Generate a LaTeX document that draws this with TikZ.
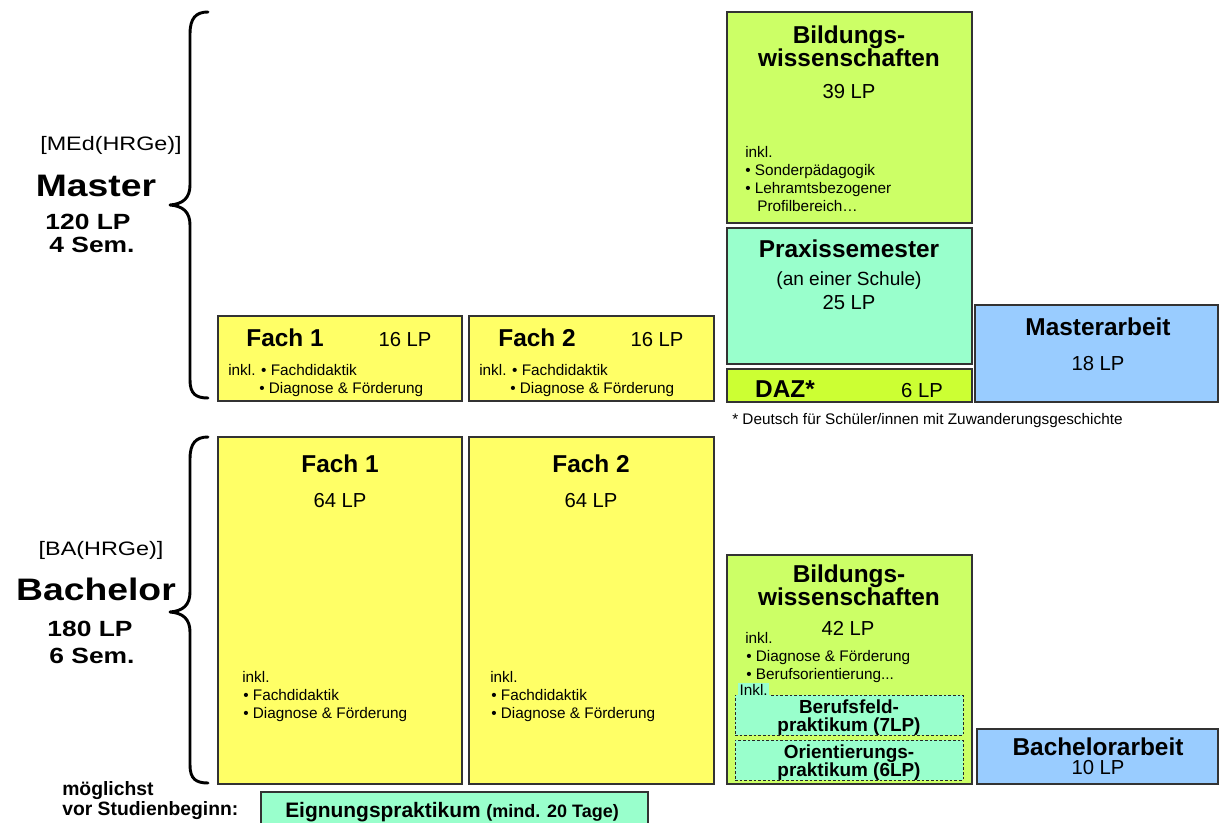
\documentclass[tikz,border=0pt]{standalone}
\usepackage{fontspec}
\setmainfont{Liberation Sans}
\newfontfamily\widefam[FakeStretch=1.2]{Liberation Sans}
\newcommand\fsz[1]{\fontsize{#1pt}{#1pt}\selectfont}
\definecolor{cYel}{HTML}{FFFF66}
\definecolor{cLime}{HTML}{CCFF66}
\definecolor{cDaz}{HTML}{CCFF33}
\definecolor{cMint}{HTML}{99FFCC}
\definecolor{cBlue}{HTML}{99CCFF}
\tikzset{
  box/.style={draw=black!80, line width=0.9pt, inner sep=0pt, outer sep=0pt, rectangle},
  dbox/.style={draw=black!85, line width=0.7pt, dash pattern=on 2pt off 1.5pt, fill=cMint},
  hd/.style={font=\fsz{18.3}\bfseries, inner sep=0pt, anchor=base},
  lp/.style={font=\fsz{15.2}, inner sep=0pt, anchor=base},
  sm/.style={font=\fsz{11.5}, inner sep=0pt, anchor=base west},
  pk/.style={font=\fsz{14.2}\bfseries, inner sep=0pt, anchor=base},
  lbl/.style={inner sep=0pt, anchor=base},
  brace/.style={line width=2.2pt, line cap=round, line join=round}
}
\newcommand\bx[6]{\node[box,#6,anchor=north west,minimum width={(#4-#2)*0.75pt},minimum height={(#5-#3)*0.75pt}] (#1) at (#2,#3) {};}
\begin{document}
\begin{tikzpicture}[x=0.75pt,y=-0.75pt]
\useasboundingbox[fill=white] (0,0) rectangle (1219,823);

% braces
\draw[brace] (208,12) .. controls (196,12) and (190,18) .. (190,34) -- (190,185) .. controls (190,198) and (183,204) .. (170,205) .. controls (183,206) and (190,212) .. (190,225) -- (190,380) .. controls (190,394) and (196,398) .. (208,398);
\draw[brace] (208,437) .. controls (196,437) and (190,443) .. (190,459) -- (190,592) .. controls (190,605) and (183,611) .. (170,612) .. controls (183,613) and (190,619) .. (190,632) -- (190,765) .. controls (190,779) and (196,783) .. (208,783);

% left labels
\node[lbl, font={\widefam\fsz{14.6}}] (medl) at (111,151) {[MEd(HRGe)]};
\node[lbl, font={\widefam\fsz{23.3}\bfseries}] (mast) at (96,197) {Master};
\node[lbl, font={\widefam\fsz{16.5}\bfseries}] (mlp) at (88,230) {120 LP};
\node[lbl, font={\widefam\fsz{16.5}\bfseries}] (msem) at (92,253) {4 Sem.};
\node[lbl, font={\widefam\fsz{14.6}}] (bal) at (101,555) {[BA(HRGe)]};
\node[lbl, font={\widefam\fsz{23.3}\bfseries}] (bach) at (96,600) {Bachelor};
\node[lbl, font={\widefam\fsz{16.5}\bfseries}] (blp) at (90,636) {180 LP};
\node[lbl, font={\widefam\fsz{16.5}\bfseries}] (bsem) at (92,663) {6 Sem.};

% boxes master
\bx{mf1}{218}{316}{462}{401}{fill=cYel}
\bx{mf2}{469}{316}{714}{401}{fill=cYel}
\bx{mbw}{727}{12}{972}{223}{fill=cLime}
\bx{prax}{727}{228}{972}{364}{fill=cMint}
\bx{daz}{727}{369}{972}{402}{fill=cDaz}
\bx{marb}{975}{305}{1218}{402}{fill=cBlue}
% boxes bachelor
\bx{bf1}{218}{437}{462}{784}{fill=cYel}
\bx{bf2}{469}{437}{714}{784}{fill=cYel}
\bx{bbw}{727}{555}{972}{784}{fill=cLime}
\node[dbox, inner sep=0pt, outer sep=0pt, anchor=north west, minimum width={228*0.75pt}, minimum height={40*0.75pt}] (bfp) at (735,695) {};
\node[dbox, inner sep=0pt, outer sep=0pt, anchor=north west, minimum width={228*0.75pt}, minimum height={40*0.75pt}] (orp) at (735,740) {};
\bx{barb}{977}{729}{1218}{784}{fill=cBlue}
\bx{eign}{261}{792}{648}{840}{fill=cMint}

% master Fach texts
\node[hd] (mf1t) at (285,346) {Fach 1};
\node[lp] (mf1lp) at (405,346) {16 LP};
\node[sm] (mf1a) at (228,375) {inkl. • Fachdidaktik};
\node[sm] (mf1b) at (259,393) {• Diagnose \& Förderung};
\node[hd] (mf2t) at (537,346) {Fach 2};
\node[lp] (mf2lp) at (657,346) {16 LP};
\node[sm] (mf2a) at (479,375) {inkl. • Fachdidaktik};
\node[sm] (mf2b) at (510,393) {• Diagnose \& Förderung};

% master BW
\node[hd] (mbw1) at (849,44) {Bildungs-};
\node[hd] (mbw2) at (849,67) {wissenschaften};
\node[lp] (mbw3) at (849,99) {39 LP};
\node[sm] (mbw4) at (745,158) {inkl.};
\node[sm] (mbw5) at (745,176) {• Sonderpädagogik};
\node[sm] (mbw6) at (745,194) {• Lehramtsbezogener};
\node[sm] (mbw7) at (757,212) {Profilbereich…};

% Praxissemester
\node[hd] (prax1) at (849,258) {Praxissemester};
\node[lbl, font=\fsz{14.3}] (prax2) at (849,286) {(an einer Schule)};
\node[lp] (prax3) at (849,310) {25 LP};

% DAZ
\node[hd] (daz1) at (785,397) {DAZ*};
\node[lp] (daz2) at (922,397) {6 LP};

% Masterarbeit
\node[hd] (marb1) at (1098,335) {Masterarbeit};
\node[lp] (marb2) at (1098,370) {18 LP};

% footnote
\node[sm, font=\fsz{11.5}] (foot) at (732,424) {* Deutsch für Schüler/innen mit Zuwanderungsgeschichte};

% bachelor Fach
\node[hd] (bf1t) at (340,472) {Fach 1};
\node[lp] (bf1lp) at (340,507) {64 LP};
\node[sm] (bf1a) at (242,682) {inkl.};
\node[sm] (bf1b) at (243,700) {• Fachdidaktik};
\node[sm] (bf1c) at (243,718) {• Diagnose \& Förderung};
\node[hd] (bf2t) at (591,472) {Fach 2};
\node[lp] (bf2lp) at (591,507) {64 LP};
\node[sm] (bf2a) at (490,682) {inkl.};
\node[sm] (bf2b) at (491,700) {• Fachdidaktik};
\node[sm] (bf2c) at (491,718) {• Diagnose \& Förderung};

% bachelor BW
\node[hd] (bbw1) at (849,582) {Bildungs-};
\node[hd] (bbw2) at (849,605) {wissenschaften};
\node[lp] (bbw3) at (848,635) {42 LP};
\node[sm] (bbw4) at (745,643) {inkl.};
\node[sm] (bbw5) at (746,661) {• Diagnose \& Förderung};
\node[sm] (bbw6) at (746,679) {• Berufsorientierung...};
\node[sm, fill=cMint, inner sep=1pt] (inkl) at (738,695) {Inkl.};
\node[pk] (bfp1) at (849,713) {Berufsfeld-};
\node[pk] (bfp2) at (849,731) {praktikum (7LP)};
\node[pk] (orp1) at (849,758) {Orientierungs-};
\node[pk] (orp2) at (849,776) {praktikum (6LP)};

% Bachelorarbeit
\node[hd] (barb1) at (1098,755) {Bachelorarbeit};
\node[lp] (barb2) at (1098,774) {10 LP};

% bottom
\node[sm, font=\fsz{14.5}\bfseries] (mog) at (62,795) {möglichst};
\node[sm, font=\fsz{14.5}\bfseries] (vor) at (62,815) {vor Studienbeginn:};
\node[sm] (eig) at (285,817) {\fsz{15.7}\bfseries Eignungspraktikum \fsz{13.5}(mind. 20 Tage)};
\end{tikzpicture}
\end{document}
